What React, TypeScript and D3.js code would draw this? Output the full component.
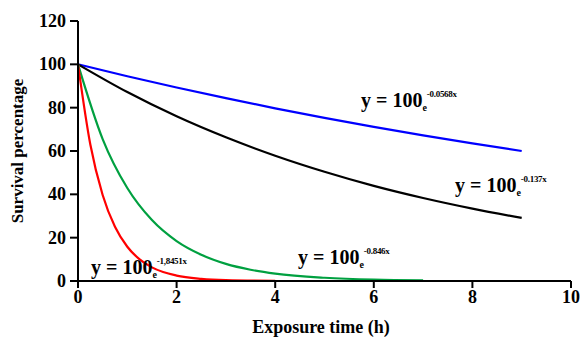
import React from "react";
import * as d3 from "d3";

const xTicks = [0, 2, 4, 6, 8, 10];
const yTicks = [0, 20, 40, 60, 80, 100, 120];

const blueX = [0, 1, 2, 3, 4, 5, 6, 7, 8, 9];
const blueY = [100, 94.5, 89.3, 84.4, 79.7, 75.3, 71.1, 67.2, 63.5, 60.0];

const blackX = [0, 1, 2, 3, 4, 5, 6, 7, 8, 9];
const blackY = [100, 87.2, 76.0, 66.3, 57.8, 50.4, 43.9, 38.3, 33.4, 29.1];

const greenX = [0, 0.5, 1, 1.5, 2, 2.5, 3, 3.5, 4, 5, 6, 7];
const greenY = [100, 65.5, 42.9, 28.1, 18.4, 12.1, 7.9, 5.2, 3.4, 1.5, 0.6, 0.3];

const redX = [0, 0.25, 0.5, 0.75, 1, 1.25, 1.5, 2, 2.5, 3, 4];
const redY = [100, 63, 39.7, 25, 15.8, 10, 6.3, 2.5, 1.0, 0.4, 0.1];

const series = [
  { xs: blueX, ys: blueY, color: "#0000ff" },
  { xs: blackX, ys: blackY, color: "#000000" },
  { xs: greenX, ys: greenY, color: "#00a040" },
  { xs: redX, ys: redY, color: "#ff0000" },
];

const equations = [
  { base: "y = 100", exp: "-0.0568x", x: 361, y: 107 },
  { base: "y = 100", exp: "-0.137x", x: 455, y: 192 },
  { base: "y = 100", exp: "-1,8451x", x: 91, y: 274 },
  { base: "y = 100", exp: "-0.846x", x: 298, y: 264 },
];

const font = "Liberation Serif";

export default function App() {
  const x = d3.scaleLinear().domain([0, 10]).range([78, 571]);
  const y = d3.scaleLinear().domain([0, 120]).range([281, 21]);
  const line = d3
    .line<[number, number]>()
    .x((d) => x(d[0]))
    .y((d) => y(d[1]))
    .curve(d3.curveMonotoneX);

  const ts = { fontFamily: font, fontWeight: 700 } as React.CSSProperties;

  return (
    <svg width={581} height={339} style={{ position: "absolute", left: 0, top: 0, background: "#fff" }}>
      <rect width={581} height={339} fill="#fff" />
      {series.map((s, i) => (
        <path
          key={i}
          d={line(s.xs.map((v, j) => [v, s.ys[j]]) as [number, number][]) || ""}
          fill="none"
          stroke={s.color}
          strokeWidth={2.2}
        />
      ))}
      <line x1={78} x2={78} y1={y(120)} y2={y(0) + 1} stroke="#000" strokeWidth={2} />
      <line x1={77} x2={x(10)} y1={281} y2={281} stroke="#000" strokeWidth={2} />
      {yTicks.map((t) => (
        <g key={"y" + t}>
          <line x1={70} x2={78} y1={y(t)} y2={y(t)} stroke="#000" strokeWidth={2} />
          <text x={66} y={y(t) + 6} textAnchor="end" style={{ ...ts, fontSize: 18 }}>
            {t}
          </text>
        </g>
      ))}
      {xTicks.map((t) => (
        <g key={"x" + t}>
          <line x1={x(t)} x2={x(t)} y1={281} y2={288} stroke="#000" strokeWidth={2} />
          <text x={x(t)} y={303} textAnchor="middle" style={{ ...ts, fontSize: 18 }}>
            {t}
          </text>
        </g>
      ))}
      <text x={321} y={333} textAnchor="middle" style={{ ...ts, fontSize: 18 }}>
        Exposure time (h)
      </text>
      <text
        transform="translate(23,151) rotate(-90)"
        textAnchor="middle"
        style={{ ...ts, fontSize: 17 }}
      >
        Survival percentage
      </text>
      {equations.map((e, i) => (
        <text key={i} x={e.x} y={e.y} style={{ ...ts, fontSize: 20 }}>
          {e.base}
          <tspan style={{ fontSize: 10 }} dy={4}>e</tspan>
          <tspan style={{ fontSize: 9, letterSpacing: -0.3 }} dy={-14}>{e.exp}</tspan>
        </text>
      ))}
    </svg>
  );
}
